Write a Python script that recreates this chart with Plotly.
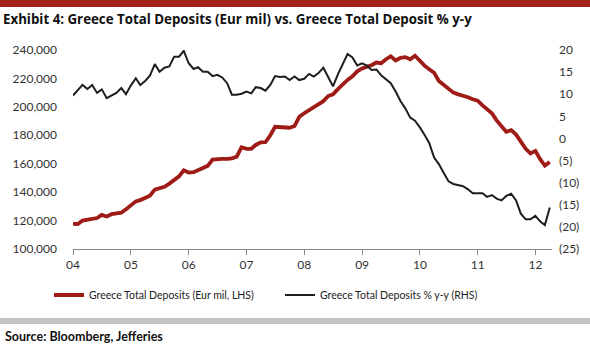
import pandas as pd
import plotly.graph_objects as go

dates = pd.date_range("2004-01-01", periods=100, freq="MS")

deposits_eur_mil = [
    117700, 117600, 120000, 120800, 121000, 121800, 124000, 122900, 124500, 125200, 125500, 128000,
    131000, 133500, 134400, 136000, 137500, 141800, 142700, 143800, 146000, 148700, 151100, 155400,
    153800, 154000, 155500, 156500, 158500, 162900, 163300, 163400, 163400, 163700, 165000, 171600,
    170500, 170500, 173200, 175000, 175100, 180000, 186000, 185700, 185700, 185300, 186500, 193000,
    195500, 197700, 199500, 201800, 204000, 207600, 208800, 212500, 215900, 219000, 221500, 225000,
    227000, 228100, 229300, 231200, 230700, 233500, 235500, 232600, 234500, 235000, 233500, 236000,
    232000, 228800, 226500, 224000, 218200, 215500, 212500, 210000, 208800, 208000, 206800, 205300,
    204300, 201000, 198200, 195500, 190500, 186400, 182500, 183600, 180500, 175500, 170500, 167300,
    169000, 163000, 158700, 161200,
]

deposits_yoy_pct = [
    9.7, 11.0, 12.1, 11.2, 12.1, 10.3, 11.1, 9.1, 9.7, 10.3, 11.4, 10.0,
    12.0, 13.6, 12.1, 13.0, 14.2, 16.8, 15.1, 16.0, 16.3, 18.5, 18.5, 19.8,
    17.0, 15.7, 16.1, 15.1, 15.1, 14.1, 14.4, 13.8, 12.5, 9.9, 9.9, 10.1,
    10.6, 10.2, 11.6, 11.4, 10.8, 12.1, 14.1, 13.9, 14.0, 13.2, 14.0, 13.2,
    13.5, 14.6, 14.0, 14.8, 16.0, 14.0, 11.8, 14.5, 17.0, 19.1, 18.3, 16.5,
    17.0, 16.5, 15.5, 15.6, 14.3, 13.3, 12.5, 10.6, 8.4, 6.8, 4.7, 4.0,
    2.5, 0.7, -1.0, -4.3, -5.8, -7.8, -9.7, -10.3, -10.6, -10.8, -11.5, -12.4,
    -12.4, -12.4, -13.2, -12.8, -13.6, -14.0, -13.0, -12.5, -14.0, -17.0, -18.3, -18.3,
    -17.5, -18.8, -19.6, -15.6,
]

left_ticks = [100000, 120000, 140000, 160000, 180000, 200000, 220000, 240000]
right_tickvals = [20, 15, 10, 5, 0, -5, -10, -15, -20, -25]
right_ticktext = ["20", "15", "10", "5", "0", "(5)", "(10)", "(15)", "(20)", "(25)"]
year_tickvals = pd.date_range("2004-01-01", periods=9, freq="YS")
year_ticktext = ["04", "05", "06", "07", "08", "09", "10", "11", "12"]

title_text = "Exhibit 4: Greece Total Deposits (Eur mil) vs. Greece Total Deposit % y-y"
source_text = "Source: Bloomberg, Jefferies"

RED = "#9E1B16"
BLACK = "#1E1E1E"
FONT = "Lato"

fig = go.Figure()
fig.add_trace(go.Scatter(x=dates, y=deposits_eur_mil, mode="lines",
                         line=dict(color=RED, width=3.8),
                         name="Greece Total Deposits (Eur mil, LHS)", yaxis="y"))
fig.add_trace(go.Scatter(x=dates, y=deposits_yoy_pct, mode="lines",
                         line=dict(color=BLACK, width=2),
                         name="Greece Total Deposits % y-y (RHS)", yaxis="y2"))

W, H = 590, 358
L, R, T, B = 73, 38, 50, 109
pw, ph = W - L - R, H - T - B

def px_x(p):
    return (p - L) / pw

def px_y(p):
    return (H - B - p) / ph

fig.update_layout(
    width=W, height=H,
    margin=dict(l=L, r=R, t=T, b=B),
    paper_bgcolor="white", plot_bgcolor="white",
    font=dict(family=FONT, size=12, color="#333333"),
    showlegend=True,
    legend=dict(orientation="h", x=px_x(49), y=px_y(295), xanchor="left", yanchor="middle",
                font=dict(family=FONT, size=10.5, color="#222222"),
                entrywidth=186, itemwidth=30, bgcolor="rgba(0,0,0,0)"),
    xaxis=dict(type="date", range=["2004-01-01", "2012-04-15"],
               tickvals=year_tickvals, ticktext=year_ticktext,
               showgrid=False, zeroline=False, showline=True, linecolor="#888888", linewidth=1,
               ticks="outside", ticklen=5, tickcolor="#888888",
               tickfont=dict(family=FONT, size=12, color="#333333")),
    yaxis=dict(range=[100000, 240000], tickvals=left_ticks, tickformat=",",
               showgrid=False, zeroline=False, showline=False, ticks="",
               ticklabelstandoff=15,
               tickfont=dict(family=FONT, size=12, color="#333333")),
    yaxis2=dict(range=[-25, 20], overlaying="y", side="right",
                tickvals=right_tickvals, ticktext=right_ticktext,
                showgrid=False, zeroline=False, showline=False, ticks="",
                ticklabelstandoff=6,
                tickfont=dict(family=FONT, size=12, color="#333333")),
    title=dict(text="<b>" + title_text + "</b>", x=3 / W, xref="container", xanchor="left",
               y=1 - 19 / H, yref="container", yanchor="middle",
               font=dict(family="Open Sans", size=13.3, color="#111111")),
)

fig.add_shape(type="rect", xref="paper", yref="paper",
              x0=px_x(0), x1=px_x(W), y0=px_y(7), y1=px_y(0),
              fillcolor="#A3201B", line=dict(width=0), layer="above")
fig.add_shape(type="rect", xref="paper", yref="paper",
              x0=px_x(0), x1=px_x(W), y0=px_y(324), y1=px_y(318),
              fillcolor="#C4C4C4", line=dict(width=0), layer="above")
fig.add_annotation(text="<b>" + source_text + "</b>", xref="paper", yref="paper",
                   x=px_x(3), y=px_y(336), xanchor="left", yanchor="middle", showarrow=False,
                   font=dict(family=FONT, size=12.5, color="#111111"))

fig.write_html("out.html", config={"displayModeBar": False},
               post_script="document.body.style.margin='0';")
